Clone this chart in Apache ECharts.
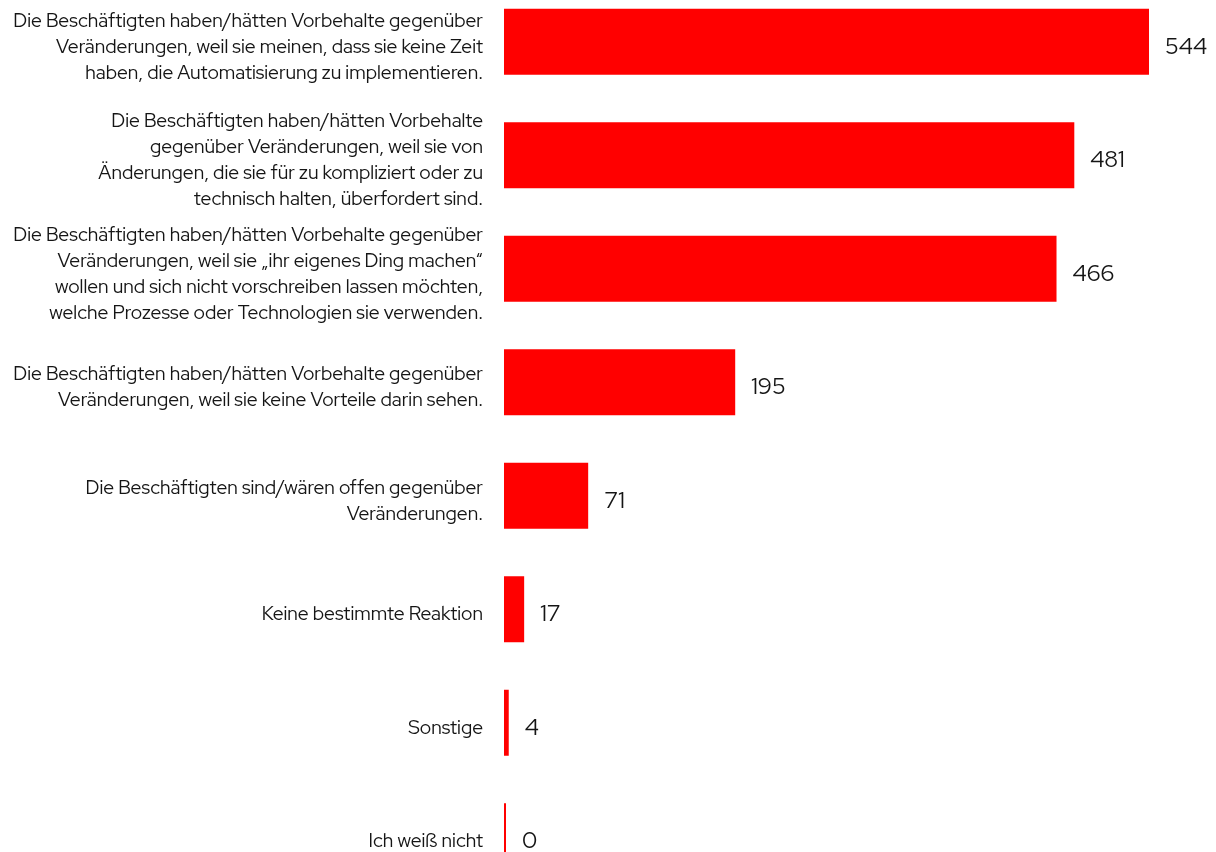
<!DOCTYPE html>
<html>
<head>
<meta charset="utf-8">
<script src="https://cdn.jsdelivr.net/npm/echarts@6/dist/echarts.min.js"></script>
<style>
  html, body { margin: 0; padding: 0; background: #fff; overflow: hidden; width: 1216px; height: 852px; }
  /* the last row runs past the bottom edge, so the canvas is taller than the page */
  #chart { position: absolute; left: 0; top: -15px; width: 1216px; height: 908px; }
</style>
</head>
<body>
<div id="chart"></div>
<script>
// Antwortkategorien (von oben nach unten)
const categories = [
  'Die Beschäftigten haben/hätten Vorbehalte gegenüber\nVeränderungen, weil sie meinen, dass sie keine Zeit\nhaben, die Automatisierung zu implementieren.',
  'Die Beschäftigten haben/hätten Vorbehalte\ngegenüber Veränderungen, weil sie von\nÄnderungen, die sie für zu kompliziert oder zu\ntechnisch halten, überfordert sind.',
  'Die Beschäftigten haben/hätten Vorbehalte gegenüber\nVeränderungen, weil sie „ihr eigenes Ding machen“\nwollen und sich nicht vorschreiben lassen möchten,\nwelche Prozesse oder Technologien sie verwenden.',
  'Die Beschäftigten haben/hätten Vorbehalte gegenüber\nVeränderungen, weil sie keine Vorteile darin sehen.',
  'Die Beschäftigten sind/wären offen gegenüber\nVeränderungen.',
  'Keine bestimmte Reaktion',
  'Sonstige',
  'Ich weiß nicht'
];

// Anzahl der Nennungen
const values = [544, 481, 466, 195, 71, 17, 4, 0];

const FONT = '"Red Hat Display", "Red Hat Text", Inter, sans-serif';
const TEXT = '#151515';

// each label line gets its own rich token; a small spacer line on top
// lowers the text block a little relative to the bar centre
const labelFormatter = v => '{s| }\n' + v.split('\n').map(l => '{t|' + l + '}').join('\n');

const chart = echarts.init(document.getElementById('chart'), null, { renderer: 'canvas' });
chart.setOption({
  animation: false,
  backgroundColor: '#ffffff',
  grid: { left: 504, right: 67, top: 0, bottom: 0, containLabel: false },
  xAxis: {
    type: 'value', min: 0, max: 544,
    show: false
  },
  yAxis: {
    type: 'category', inverse: true, data: categories,
    axisLine: { show: false }, axisTick: { show: false },
    axisLabel: {
      margin: 21, align: 'right', color: TEXT,
      fontFamily: FONT, fontSize: 19.2, lineHeight: 26,
      formatter: labelFormatter,
      rich: {
        s: { fontSize: 1, lineHeight: 12 },
        t: { fontFamily: FONT, fontSize: 19.2, lineHeight: 26, color: TEXT }
      }
    }
  },
  series: [{
    type: 'bar',
    data: values,
    barWidth: 66,
    barMinHeight: 2,
    itemStyle: { color: '#ff0000' },
    label: {
      show: true, position: 'right', distance: 16, offset: [0, 6],
      color: TEXT, fontFamily: FONT, fontSize: 23
    }
  }]
});
</script>
</body>
</html>
